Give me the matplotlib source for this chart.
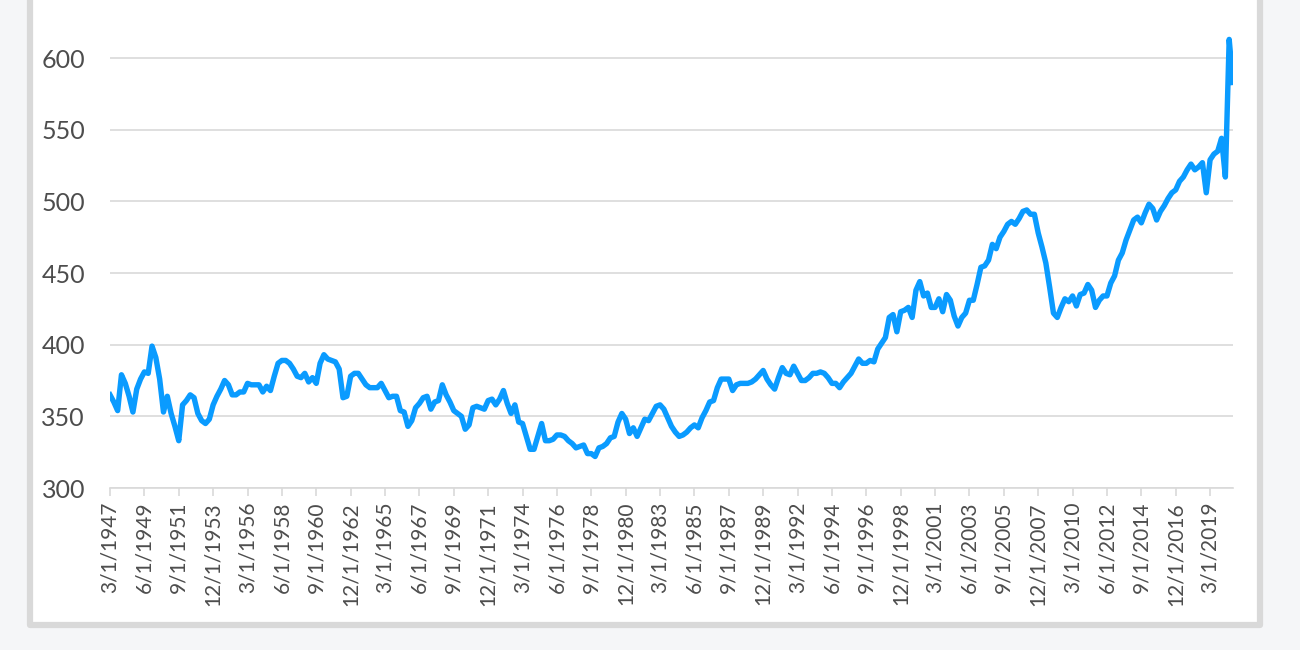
import matplotlib.pyplot as plt
from matplotlib.patches import Rectangle

plt.rcParams['font.family'] = ['Lato', 'DejaVu Sans']

# quarterly series, first quarter = 3/1/1947
start_year = 1947
values = [
    365, 360, 354, 379,  # 1947
    373, 364, 353, 369,  # 1948
    376, 381, 380, 399,  # 1949
    391, 376, 353, 364,  # 1950
    352, 343, 333, 358,  # 1951
    361, 365, 363, 352,  # 1952
    347, 345, 348, 358,  # 1953
    364, 369, 375, 372,  # 1954
    365, 365, 367, 367,  # 1955
    373, 372, 372, 372,  # 1956
    367, 371, 368, 378,  # 1957
    387, 389, 389, 387,  # 1958
    383, 378, 377, 380,  # 1959
    374, 377, 373, 387,  # 1960
    393, 390, 389, 388,  # 1961
    383, 363, 364, 378,  # 1962
    380, 380, 376, 372,  # 1963
    370, 370, 370, 373,  # 1964
    368, 363, 364, 364,  # 1965
    354, 353, 343, 347,  # 1966
    356, 359, 363, 364,  # 1967
    355, 360, 361, 372,  # 1968
    365, 360, 354, 352,  # 1969
    350, 341, 344, 356,  # 1970
    357, 356, 355, 361,  # 1971
    362, 358, 362, 368,  # 1972
    359, 352, 358, 346,  # 1973
    345, 336, 327, 327,  # 1974
    336, 345, 333, 333,  # 1975
    334, 337, 337, 336,  # 1976
    333, 331, 328, 329,  # 1977
    330, 324, 324, 322,  # 1978
    328, 329, 331, 335,  # 1979
    336, 346, 352, 348,  # 1980
    338, 342, 336, 342,  # 1981
    348, 347, 352, 357,  # 1982
    358, 355, 349, 343,  # 1983
    339, 336, 337, 339,  # 1984
    342, 344, 342, 349,  # 1985
    354, 360, 361, 370,  # 1986
    376, 376, 376, 368,  # 1987
    372, 373, 373, 373,  # 1988
    374, 376, 379, 382,  # 1989
    376, 372, 369, 377,  # 1990
    384, 380, 379, 385,  # 1991
    380, 375, 375, 377,  # 1992
    380, 380, 381, 380,  # 1993
    377, 373, 373, 370,  # 1994
    374, 377, 380, 385,  # 1995
    390, 387, 387, 389,  # 1996
    388, 397, 401, 405,  # 1997
    419, 421, 409, 423,  # 1998
    424, 426, 419, 438,  # 1999
    444, 434, 436, 426,  # 2000
    426, 432, 423, 435,  # 2001
    431, 420, 413, 419,  # 2002
    422, 431, 431, 442,  # 2003
    454, 455, 459, 470,  # 2004
    467, 475, 479, 484,  # 2005
    486, 484, 488, 493,  # 2006
    494, 491, 491, 478,  # 2007
    468, 457, 440, 422,  # 2008
    419, 426, 432, 430,  # 2009
    434, 427, 435, 436,  # 2010
    442, 438, 426, 431,  # 2011
    434, 434, 443, 448,  # 2012
    459, 464, 473, 480,  # 2013
    487, 489, 485, 492,  # 2014
    498, 495, 487, 493,  # 2015
    497, 502, 506, 508,  # 2016
    514, 517, 522, 526,  # 2017
    522, 524, 527, 506,  # 2018
    529, 533, 535, 544,  # 2019
    517, 613, 583,       # 2020
]
labels = [f"{3 * (i % 4) + 3}/1/{start_year + i // 4}" for i in range(len(values))]
label_step = 9
y_ticks = [300, 350, 400, 450, 500, 550, 600]

fig = plt.figure(figsize=(13, 6.5), dpi=100, facecolor='#f5f6f8')

# white card behind the chart
fig.patches.append(Rectangle((30 / 1300, 25 / 650), 1230 / 1300, 1.0,
                             transform=fig.transFigure, facecolor='white',
                             edgecolor='#d9d9d9', linewidth=4.5,
                             joinstyle='round', zorder=-1))

ax = fig.add_axes([110 / 1300, 162 / 650, 1123 / 1300, 488 / 650])
ax.set_facecolor('none')

n = len(values)
ax.plot(range(n), values, color='#0a9bff', linewidth=3.9,
        solid_joinstyle='round', zorder=3)

ax.set_xlim(0, n - 1)
ax.set_ylim(300, 640.5)
ax.set_yticks(y_ticks)
ax.set_xticks(range(0, n, label_step))
ax.set_xticklabels(labels[::label_step], rotation=90)

ax.yaxis.grid(True, color='#d9d9d9', linewidth=1.2)
ax.set_axisbelow(True)
for side in ['top', 'right', 'left']:
    ax.spines[side].set_visible(False)
ax.spines['bottom'].set_color('#d9d9d9')
ax.spines['bottom'].set_linewidth(1.2)

ax.tick_params(axis='x', length=6, width=1.2, color='#d9d9d9', pad=4,
               labelsize=15, labelcolor='#4d4d4d')
ax.tick_params(axis='y', length=0, pad=18, labelsize=18, labelcolor='#4d4d4d')

fig.savefig('out.png', dpi=100)
